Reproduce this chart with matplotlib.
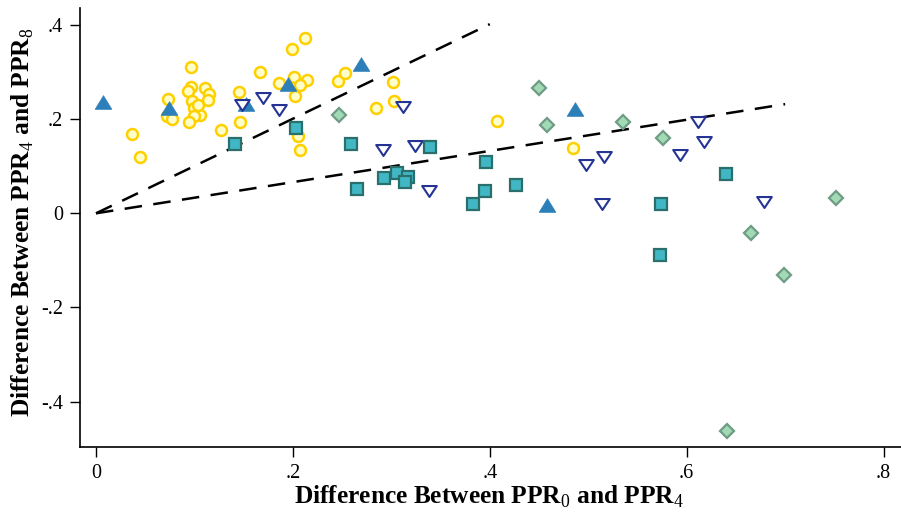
import matplotlib
matplotlib.use("Agg")
import matplotlib.pyplot as plt
from matplotlib.path import Path

plt.rcParams['font.family'] = ['Liberation Serif', 'DejaVu Serif']
plt.rcParams['mathtext.fontset'] = 'custom'
plt.rcParams['mathtext.rm'] = 'Liberation Serif'

# --- data ---
circle_x = [0.212, 0.199, 0.097, 0.167, 0.2015, 0.214, 0.186, 0.207, 0.096, 0.111,
            0.093, 0.115, 0.145, 0.073, 0.114, 0.098, 0.202, 0.100, 0.106, 0.072,
            0.077, 0.100, 0.094, 0.146, 0.127, 0.037, 0.045, 0.205, 0.207, 0.246,
            0.253, 0.302, 0.303, 0.284, 0.407, 0.485, 0.104]
circle_y = [0.373, 0.349, 0.310, 0.300, 0.290, 0.284, 0.276, 0.272, 0.269, 0.266,
            0.260, 0.253, 0.258, 0.242, 0.240, 0.238, 0.249, 0.223, 0.209, 0.206,
            0.200, 0.207, 0.193, 0.193, 0.177, 0.169, 0.119, 0.165, 0.134, 0.281,
            0.298, 0.280, 0.239, 0.223, 0.197, 0.138, 0.230]

tri_up_x = [0.0075, 0.074, 0.152, 0.195, 0.269, 0.487, 0.458]
tri_up_y = [0.236, 0.223, 0.233, 0.274, 0.318, 0.221, 0.018]

tri_dn_x = [0.148, 0.170, 0.186, 0.312, 0.292, 0.324, 0.338, 0.498, 0.516, 0.514,
            0.593, 0.611, 0.618, 0.679]
tri_dn_y = [0.231, 0.245, 0.219, 0.226, 0.135, 0.142, 0.048, 0.102, 0.119, 0.020,
            0.123, 0.193, 0.152, 0.024]

sq_x = [0.141, 0.2035, 0.2595, 0.339, 0.265, 0.293, 0.306, 0.317, 0.3135, 0.383,
        0.396, 0.395, 0.4265, 0.574, 0.640, 0.573]
sq_y = [0.148, 0.181, 0.147, 0.140, 0.052, 0.076, 0.085, 0.078, 0.066, 0.020,
        0.108, 0.048, 0.060, 0.020, 0.083, -0.088]

dia_x = [0.247, 0.450, 0.458, 0.535, 0.576, 0.7515, 0.665, 0.699, 0.641]
dia_y = [0.209, 0.267, 0.188, 0.195, 0.160, 0.033, -0.041, -0.132, -0.462]

# reference lines
ref1_x = [0, 0.40]
ref1_y = [0, 0.402]
ref2_x = [0, 0.70]
ref2_y = [0, 0.232]

xticks = [0, 0.2, 0.4, 0.6, 0.8]
xticklabels = ['0', '.2', '.4', '.6', '.8']
yticks = [-0.4, -0.2, 0, 0.2, 0.4]
yticklabels = ['-.4', '-.2', '0', '.2', '.4']

# custom triangles, a bit flatter than matplotlib's (closed paths)
tri_up = Path([(-1, -0.82), (1, -0.82), (0, 0.82), (-1, -0.82)], closed=True)
tri_dn = Path([(-1, 0.75), (1, 0.75), (0, -0.75), (-1, 0.75)], closed=True)

fig = plt.figure(figsize=(9.01, 5.17), dpi=100)
ax = fig.add_axes([0.0888, 0.1348, 0.9112, 0.8497])

ax.plot(ref1_x, ref1_y, color='black', lw=1.8, dashes=(7.0, 4.6), zorder=2)
ax.plot(ref2_x, ref2_y, color='black', lw=1.8, dashes=(7.0, 4.6), zorder=2)

ax.plot(circle_x, circle_y, 'o', ms=7.9, mfc='#ffffcc', mec='#ffd000', mew=1.8,
        ls='none', zorder=3)
ax.plot(tri_up_x, tri_up_y, marker=tri_up, ms=12, mfc='#2c7fb8', mec='#2c7fb8',
        mew=0.5, ls='none', zorder=4)
ax.plot(tri_dn_x, tri_dn_y, marker=tri_dn, ms=10.5, mfc='white', mec='#253494',
        mew=1.5, ls='none', zorder=5)
ax.plot(sq_x, sq_y, 's', ms=8, mfc='#41b6c4', mec='#2b6f6d', mew=1.6,
        ls='none', zorder=6)
ax.plot(dia_x, dia_y, 'D', ms=7.4, mfc='#a1dab4', mec='#6e9c84', mew=1.6,
        ls='none', zorder=6)

ax.set_xlim(-0.01625, 0.8177)
ax.set_ylim(-0.4973, 0.4363)
ax.set_xticks(xticks)
ax.set_xticklabels(xticklabels)
ax.set_yticks(yticks)
ax.set_yticklabels(yticklabels)

for s in ['top', 'right']:
    ax.spines[s].set_visible(False)
for s in ['left', 'bottom']:
    ax.spines[s].set_linewidth(1.2)
ax.tick_params(axis='both', length=7, width=1.0, labelsize=14.5, pad=5)

ax.set_xlabel(r'Difference Between PPR$_{\mathrm{0}}$ and PPR$_{\mathrm{4}}$',
              fontsize=18.3, fontweight='bold')
ax.set_ylabel(r'Difference Between PPR$_{\mathrm{4}}$ and PPR$_{\mathrm{8}}$',
              fontsize=18.3, fontweight='bold')
ax.xaxis.set_label_coords(0.498, -0.084)
ax.yaxis.set_label_coords(-0.054, 0.513)

fig.savefig('out.png', dpi=100)
